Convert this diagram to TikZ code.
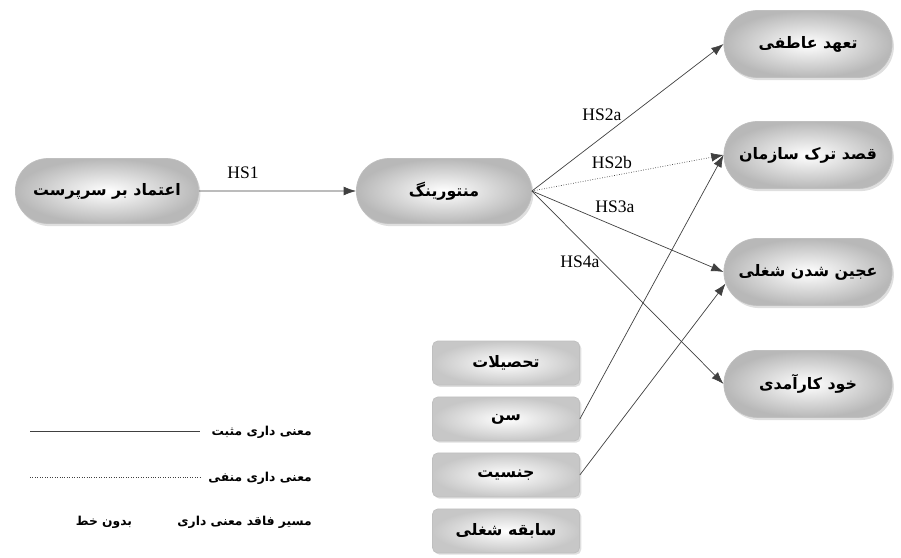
\documentclass[tikz,border=0pt]{standalone}
\usepackage{fontspec}
\usepackage{tikz}
\usetikzlibrary{shapes.misc,shadows,arrows.meta,positioning}
\setmainfont{Liberation Serif}
\newfontfamily\farsi[Script=Arabic]{DejaVu Sans}
\TeXXeTstate=1
\newcommand{\fa}[1]{{\farsi\bfseries\beginR #1\endR}}

\begin{document}
\begin{tikzpicture}[x=0.02cm,y=-0.02cm,
    pill/.style={rounded rectangle, draw=black!25, inner color=white, outer color=black!28,
        minimum height=1.3cm, drop shadow={opacity=0.25, shadow xshift=1pt, shadow yshift=-1.5pt},
        font=\small},
    rpill/.style={pill, minimum width=3.6cm, minimum height=1.34cm},
    ctrl/.style={rectangle, rounded corners=3pt, draw=black!25, inner color=white, outer color=black!22,
        minimum width=2.94cm, minimum height=0.88cm, drop shadow={opacity=0.25, shadow xshift=1pt, shadow yshift=-1pt},
        font=\small},
    arr/.style={-{Latex[length=7pt,width=5pt]}, black!75, thin},
    lbl/.style={font=\normalsize},
    leg/.style={font=\scriptsize, anchor=east}]
    \useasboundingbox (0,0) rectangle (901,557);

    % main path
    \node[pill, minimum width=3.9cm] (a) at (107,191) {\fa{اعتماد بر سرپرست}};
    \node[pill, minimum width=3.74cm] (b) at (444,191) {\fa{منتورینگ}};

    % outcomes
    \node[rpill] (c) at (808,44) {\fa{تعهد عاطفی}};
    \node[rpill, below of=c, node distance=2.22cm] (d) {\fa{قصد ترک سازمان}};
    \node[rpill, below of=d, node distance=2.34cm] (e) {\fa{عجین شدن شغلی}};
    \node[rpill, below of=e, node distance=2.24cm] (f) {\fa{خود کارآمدی}};

    % controls
    \node[ctrl] (g) at (506,363) {\fa{تحصیلات}};
    \node[ctrl, below of=g, node distance=1.12cm] (h) {\fa{سن}};
    \node[ctrl, below of=h, node distance=1.12cm] (i) {\fa{جنسیت}};
    \node[ctrl, below of=i, node distance=1.12cm] (j) {\fa{سابقه شغلی}};

    \draw[arr] (a) -- (b);
    \draw[arr] (b.east) -- (c.west);
    \draw[arr, densely dotted] (b.east) -- (d.west);
    \draw[arr] (b.east) -- (e.west);
    \draw[arr] (b.east) -- (f.west);
    \draw[arr] (h.east) -- (d.west);
    \draw[arr] (i.east) -- (e.188);

    \node[lbl] (hs1) at (243,173) {HS1};
    \node[lbl] (hs2a) at (602,115) {HS2a};
    \node[lbl] (hs2b) at (612,162) {HS2b};
    \node[lbl] (hs3a) at (615,207) {HS3a};
    \node[lbl] (hs4a) at (580,262) {HS4a};

    % legend
    \coordinate (p1) at (30,431);
    \coordinate (p2) at (200,431);
    \coordinate (q1) at (30,477);
    \coordinate (q2) at (200,477);
    \draw[black!75] (p1) -- (p2);
    \draw[black!75, densely dotted] (q1) -- (q2);
    \node[leg] (m1) at (318,432) {\fa{معنی داری مثبت}};
    \node[leg] (m2) at (318,478) {\fa{معنی داری منفی}};
    \node[leg] (m3) at (318,522) {\fa{مسیر فاقد معنی داری}};
    \node[font=\scriptsize] (m4) at (104,522) {\fa{بدون خط}};
\end{tikzpicture}
\end{document}
